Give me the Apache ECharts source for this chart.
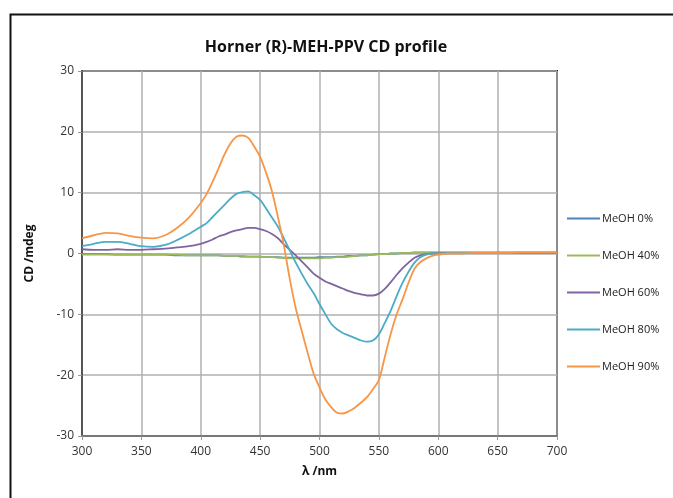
<!DOCTYPE html>
<html>
<head>
<meta charset="utf-8">
<script src="https://cdn.jsdelivr.net/npm/echarts@6/dist/echarts.min.js"></script>
<style>html,body{margin:0;padding:0;background:#fff;}#c{width:673px;height:498px;}</style>
</head>
<body>
<div id="c"></div>
<script>
const wavelengths = [300,310,320,330,340,350,360,370,380,390,
  400,405,410,415,420,425,430,435,440,445,450,455,460,465,470,475,480,485,490,495,
  500,505,510,515,520,525,530,535,540,545,550,555,560,565,570,575,580,585,590,595,600,
  610,620,630,640,650,660,670,680,690,700];

const meoh0 = [-0.1,-0.1,-0.1,-0.2,-0.2,-0.2,-0.2,-0.2,-0.3,-0.3,
  -0.3,-0.3,-0.3,-0.3,-0.4,-0.4,-0.4,-0.5,-0.5,-0.5,-0.5,-0.6,-0.6,-0.6,-0.7,-0.7,-0.7,-0.7,-0.7,-0.7,
  -0.6,-0.6,-0.6,-0.5,-0.5,-0.4,-0.4,-0.3,-0.3,-0.2,-0.1,-0.1,0.0,0.0,0.1,0.1,0.2,0.2,0.2,0.2,0.2,
  0.2,0.2,0.2,0.2,0.2,0.2,0.2,0.2,0.2,0.2];

const meoh40 = [-0.2,-0.2,-0.2,-0.2,-0.2,-0.2,-0.2,-0.2,-0.2,-0.3,
  -0.3,-0.3,-0.3,-0.3,-0.4,-0.4,-0.4,-0.4,-0.5,-0.5,-0.5,-0.6,-0.6,-0.7,-0.7,-0.8,-0.8,-0.8,-0.8,-0.8,
  -0.8,-0.7,-0.7,-0.6,-0.6,-0.5,-0.4,-0.3,-0.3,-0.2,-0.1,-0.1,0.0,0.0,0.1,0.1,0.1,0.1,0.1,0.1,0.1,
  0.1,0.1,0.1,0.1,0.1,0.1,0.1,0.1,0.1,0.1];

const meoh60 = [0.7,0.6,0.6,0.7,0.6,0.6,0.7,0.8,1.0,1.2,
  1.6,1.9,2.3,2.8,3.1,3.5,3.8,4.0,4.2,4.2,4.0,3.7,3.2,2.5,1.5,0.6,-0.3,-1.3,-2.3,-3.3,
  -4.0,-4.6,-5.0,-5.4,-5.8,-6.2,-6.5,-6.7,-6.9,-6.9,-6.6,-5.8,-4.7,-3.5,-2.4,-1.5,-0.7,-0.3,-0.1,0.0,0.0,
  0.1,0.1,0.1,0.1,0.1,0.1,0.1,0.1,0.1,0.1];

const meoh80 = [1.2,1.6,1.9,1.9,1.6,1.2,1.1,1.4,2.2,3.2,
  4.4,5.0,6.0,7.0,8.0,9.0,9.8,10.1,10.2,9.6,8.8,7.4,5.9,4.4,2.5,0.5,-1.5,-3.3,-5.0,-6.5,
  -8.3,-10.0,-11.6,-12.5,-13.1,-13.5,-13.9,-14.3,-14.5,-14.3,-13.3,-11.4,-9.4,-7.0,-4.8,-3.0,-1.5,-0.6,-0.2,0.0,0.0,
  0.1,0.1,0.1,0.1,0.1,0.1,0.1,0.1,0.1,0.1];

const meoh90 = [2.5,3.0,3.4,3.3,2.9,2.6,2.5,3.0,4.2,5.9,
  8.3,9.8,11.8,14.0,16.3,18.1,19.2,19.4,19.0,17.6,15.9,13.3,10.2,6.0,1.3,-4.2,-9.0,-12.7,-16.3,-19.7,
  -22.0,-24.0,-25.3,-26.2,-26.3,-25.9,-25.3,-24.5,-23.6,-22.3,-20.8,-17.0,-13.2,-10.0,-7.5,-4.8,-2.5,-1.4,-0.8,-0.4,-0.2,
  0.0,0.0,0.1,0.1,0.1,0.1,0.2,0.2,0.2,0.2];

const seriesNames = ['MeOH 0%','MeOH 40%','MeOH 60%','MeOH 80%','MeOH 90%'];
const seriesValues = [meoh0, meoh40, meoh60, meoh80, meoh90];
const seriesColors = ['#4F81BD','#9BBB59','#8064A2','#4BACC6','#F79646'];

const chart = echarts.init(document.getElementById('c'), null, {renderer:'canvas'});
const font = '"Open Sans", "Liberation Sans", sans-serif';

chart.setOption({
  animation: false,
  backgroundColor: '#fff',
  textStyle: {fontFamily: font},
  title: {
    text: 'Horner (R)-MEH-PPV CD profile',
    left: 321, top: 34, textAlign: 'center',
    textStyle: {fontFamily: font, fontWeight: 'bold', fontSize: 16, color: '#111'}
  },
  graphic: [{
    type: 'rect', left: 8, top: 12, shape: {width: 720, height: 520},
    style: {fill: 'none', stroke: '#111', lineWidth: 2}, silent: true
  }],
  legend: {
    orient: 'vertical', left: 562, top: 208, itemGap: 26,
    itemWidth: 33, itemHeight: 12,
    textStyle: {fontFamily: font, fontSize: 11, color: '#222', padding: [0,0,0,-3]},
    data: seriesNames.map(n => ({name: n, icon: 'path://M0,5 L33,5 L33,7 L0,7 Z'}))
  },
  grid: {
    left: 82, top: 71, right: 116, bottom: 62,
    show: true, borderColor: '#222', borderWidth: 2, backgroundColor: 'transparent'
  },
  xAxis: {
    type: 'value', min: 300, max: 700, interval: 50,
    name: 'λ /nm', nameLocation: 'middle', nameGap: 30,
    nameTextStyle: {fontFamily: font, fontWeight: 'bold', fontSize: 12, color: '#111'},
    axisLine: {show: true, onZero: false, lineStyle: {color: '#777', width: 2}},
    axisTick: {show: true, inside: false, length: 4, lineStyle: {color: '#999'}},
    axisLabel: {fontFamily: font, fontSize: 12, color: '#333', margin: 10},
    splitLine: {show: true, lineStyle: {color: '#b0b0b0', width: 1.5}}
  },
  yAxis: {
    type: 'value', min: -30, max: 30, interval: 10,
    name: 'CD /mdeg', nameLocation: 'middle', nameGap: 46, nameRotate: 90,
    nameTextStyle: {fontFamily: font, fontWeight: 'bold', fontSize: 12, color: '#111'},
    axisLine: {show: true, onZero: false, lineStyle: {color: '#555', width: 2}},
    axisTick: {show: true, inside: false, length: 4, lineStyle: {color: '#999'}},
    axisLabel: {fontFamily: font, fontSize: 12, color: '#333', margin: 8},
    splitLine: {show: true, lineStyle: {color: '#b0b0b0', width: 1.5}}
  },
  series: seriesNames.map((n, i) => ({
    name: n, type: 'line', symbol: 'none', smooth: 0.3,
    lineStyle: {color: seriesColors[i], width: 1.8},
    itemStyle: {color: seriesColors[i]},
    data: wavelengths.map((w, j) => [w, seriesValues[i][j]])
  }))
});
</script>
</body>
</html>
